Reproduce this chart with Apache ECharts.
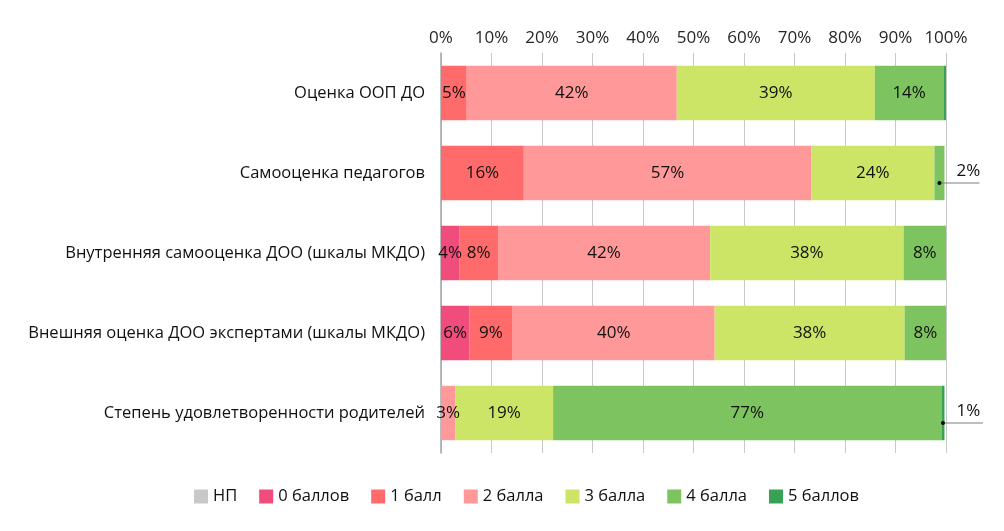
<!DOCTYPE html>
<html><head><meta charset="utf-8">
<script src="https://cdn.jsdelivr.net/npm/echarts@6/dist/echarts.min.js"></script>
<style>html,body{margin:0;padding:0;background:#fff}#c{width:1004px;height:531px}</style>
</head><body><div id="c"></div>
<script>
const categories = ["Оценка ООП ДО","Самооценка педагогов","Внутренняя самооценка ДОО (шкалы МКДО)","Внешняя оценка ДОО экспертами (шкалы МКДО)","Степень удовлетворенности родителей"];
const seriesNames = ["НП","0 баллов","1 балл","2 балла","3 балла","4 балла","5 баллов"];
const np      = [0, 0, 0, 0, 0];
const b0      = [0, 0, 3.6, 5.6, 0];
const b1      = [5.1, 16.4, 7.7, 8.6, 0];
const b2      = [41.6, 56.9, 42.0, 40.0, 2.8];
const b3      = [39.2, 24.4, 38.3, 37.6, 19.4];
const b4      = [13.6, 2.0, 8.4, 8.2, 76.9];
const b5      = [0.5, 0, 0, 0, 0.6];
const tickLabels = ["0%","10%","20%","30%","40%","50%","60%","70%","80%","90%","100%"];

const colors = ["#C8C8C8","#F04D7C","#FF6B6B","#FF9999","#CCE566","#7DC35F","#37A155"];
const allData = [np,b0,b1,b2,b3,b4,b5];
const FONT = "Open Sans";
// callout labels (outside bar) and hidden labels: [seriesIndex, dataIndex]
const callouts = [[5,1],[6,4]];
const hidden = [[6,0]];
const isIn = (list,s,d)=>list.some(p=>p[0]===s&&p[1]===d);

const series = seriesNames.map((name,si)=>({
  name, type:'bar', stack:'total', barCategoryGap:'32%',
  itemStyle:{color:colors[si]},
  label:{show:true, position:'inside', color:'#111', fontFamily:FONT, fontSize:17,
    formatter:p=> p.value>0 ? Math.round(p.value)+'%' : ''},
  emphasis:{disabled:true},
  data: allData[si].map((v,di)=>{
    if (isIn(hidden,si,di)) return {value:v,label:{show:false}};
    if (isIn(callouts,si,di)) return {value:v,label:{show:true,position:'right',distance:12,offset:[0,-2]}};
    return v;
  })
}));

const chart = echarts.init(document.getElementById('c'));
chart.setOption({
  animation:false,
  textStyle:{fontFamily:FONT},
  grid:{left:441, right:58, top:53, bottom:78},
  xAxis:{type:'value', position:'top', min:0, max:100, interval:10,
    axisLine:{show:false}, axisTick:{show:false},
    axisLabel:{color:'#262626', fontSize:17, fontFamily:FONT, margin:6,
      formatter:v=>tickLabels[Math.round(v/10)]},
    splitLine:{lineStyle:{color:'#C8C8C8', width:1}}},
  yAxis:{type:'category', inverse:true, data:categories,
    axisLine:{show:true, lineStyle:{color:'#A6A6A6', width:1.5}}, axisTick:{show:false},
    axisLabel:{color:'#111', fontSize:16.5, fontFamily:FONT, margin:16}},
  legend:{bottom:21, left:189, itemWidth:14, itemHeight:14, itemGap:22,
    icon:'rect', textStyle:{color:'#111', fontSize:16.5, fontFamily:FONT}, data:seriesNames},
  series
});

// leader lines and dots for the callout labels, positioned through the axis scales
const g = [];
callouts.forEach(([si,di])=>{
  let before = 0; for (let k=0;k<si;k++) before += allData[k][di];
  const mid = before + allData[si][di]/2;
  const p = chart.convertToPixel({gridIndex:0}, [mid, categories[di]]);
  const y = p[1] + 10;
  g.push({type:'line', shape:{x1:p[0], y1:y, x2:p[0]+40, y2:y}, style:{stroke:'#7f7f7f', lineWidth:1}, z:100});
  g.push({type:'circle', shape:{cx:p[0], cy:y, r:2}, style:{fill:'#000'}, z:101});
});
chart.setOption({graphic:g});
</script></body></html>
